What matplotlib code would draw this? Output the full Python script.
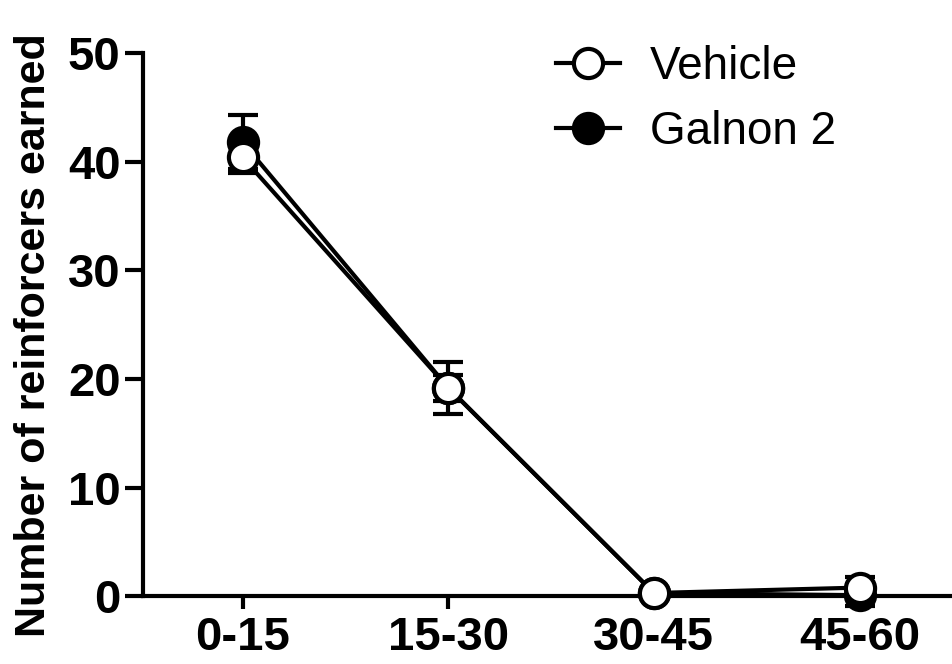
import matplotlib
matplotlib.use("Agg")
import matplotlib.pyplot as plt
from matplotlib.lines import Line2D

plt.rcParams['font.family'] = ['Liberation Sans', 'DejaVu Sans']

# data
bins = ["0-15", "15-30", "30-45", "45-60"]
vehicle_mean = [40.4, 19.2, 0.3, 0.8]
vehicle_sem = [1.4, 1.2, 0.2, 1.0]
galnon_mean = [41.8, 19.2, 0.3, 0.1]
galnon_sem = [2.5, 2.4, 0.2, 1.0]

x = list(range(len(bins)))

fig = plt.figure(figsize=(9.52, 6.64), dpi=100)
ax = fig.add_axes([0.150, 0.102, 0.848, 0.818])

# Galnon 2 underneath, vehicle on top
g = ax.errorbar(x, galnon_mean, yerr=galnon_sem, color='black', lw=3,
                marker='o', ms=21, mfc='black', mec='black', mew=3,
                capsize=11, capthick=3, elinewidth=3, zorder=3)
v = ax.errorbar(x, vehicle_mean, yerr=vehicle_sem, color='black', lw=3,
                marker='o', ms=21, mfc='white', mec='black', mew=3,
                capsize=11, capthick=3, elinewidth=3, zorder=4)
for cont in (g, v):
    for art in cont.get_children():
        art.set_clip_on(False)

ax.set_xlim(-0.485, 3.44)
ax.set_ylim(0, 50)
ax.set_yticks([0, 10, 20, 30, 40, 50])
ax.set_xticks(x)
ax.set_xticklabels(bins)

for s in ['top', 'right']:
    ax.spines[s].set_visible(False)
for s in ['left', 'bottom']:
    ax.spines[s].set_linewidth(3)

ax.tick_params(axis='y', length=13, width=3, labelsize=34, pad=3)
ax.tick_params(axis='x', length=9, width=3, labelsize=34, pad=5)
for lab in ax.get_xticklabels() + ax.get_yticklabels():
    lab.set_fontweight('bold')

ax.set_ylabel("Number of reinforcers earned", fontsize=31, fontweight='bold', labelpad=10)
ax.yaxis.label.set_y(0.48)

handles = [
    Line2D([], [], color='black', lw=3, marker='o', ms=21, mfc='white', mec='black', mew=3),
    Line2D([], [], color='black', lw=3, marker='o', ms=21, mfc='black', mec='black', mew=3),
]
ax.legend(handles, ["Vehicle", "Galnon 2"], loc='upper left', bbox_to_anchor=(0.461, 1.09),
          frameon=False, fontsize=33, handlelength=1.4, handletextpad=0.65,
          labelspacing=0.45)

fig.savefig("out.png", dpi=100)
